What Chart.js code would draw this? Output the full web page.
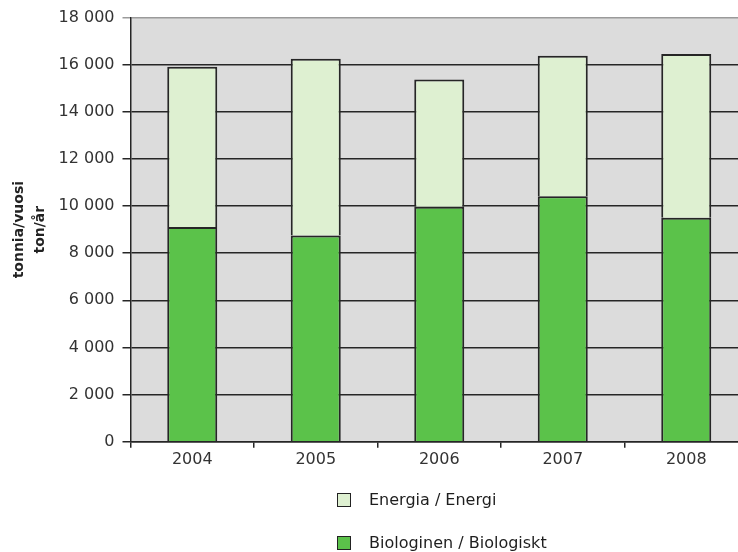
<!DOCTYPE html>
<html>
<head>
<meta charset="utf-8">
<script src="https://cdn.jsdelivr.net/npm/chart.js@4/dist/chart.umd.min.js"></script>
<style>
  html, body { margin:0; padding:0; background:#fff; width:738px; height:552px; overflow:hidden; }
  #wrap { position:relative; width:760px; height:552px; }
  #legend { position:absolute; left:337px; top:493px; font-family:"DejaVu Sans", sans-serif; font-size:16px; color:#1e1e1e; }
  .item { position:absolute; left:0; height:15px; white-space:nowrap; }
  .box { position:absolute; left:0; top:0; width:12px; height:12px; border:1.5px solid #222; }
  .lbl { position:absolute; left:32px; top:-3px; }
</style>
</head>
<body>
<div id="wrap">
  <canvas id="c" width="760" height="552"></canvas>
  <div id="legend"></div>
</div>
<script>
const categories = ['2004', '2005', '2006', '2007', '2008'];
const biologinen = [9110, 8750, 9970, 10420, 9510];
const energia = [6800, 7500, 5400, 5960, 6950];
const seriesLabels = ['Biologinen / Biologiskt', 'Energia / Energi'];
const yTitle = ['tonnia/vuosi', 'ton/år'];
const yMax = 18000;
const yStep = 2000;

const colBio = '#5bc24a';
const colEn = '#def0d1';
const dark = '#262626';

const fmt = v => String(v).replace(/\B(?=(\d{3})+(?!\d))/g, ' ');

const bgPlugin = {
  id: 'bg',
  beforeDraw(chart) {
    const a = chart.chartArea, ctx = chart.ctx;
    ctx.save();
    ctx.fillStyle = '#dcdcdc';
    ctx.fillRect(a.left, a.top, a.right - a.left, a.bottom - a.top);
    ctx.restore();
  }
};

const font = { family: '"DejaVu Sans", sans-serif', size: 16 };

const chart = new Chart(document.getElementById('c'), {
  type: 'bar',
  data: {
    labels: categories,
    datasets: [
      { label: seriesLabels[0], data: biologinen, backgroundColor: colBio, borderColor: dark, borderWidth: 2, borderSkipped: 'start' },
      { label: seriesLabels[1], data: energia, backgroundColor: colEn, borderColor: dark, borderWidth: 2, borderSkipped: 'start' }
    ]
  },
  options: {
    responsive: false,
    animation: false,
    devicePixelRatio: 1,
    layout: { padding: { top: 17, right: 12, left: 0, bottom: 0 } },
    datasets: { bar: { barPercentage: 0.405, categoryPercentage: 1 } },
    plugins: { legend: { display: false }, tooltip: { enabled: false } },
    scales: {
      x: {
        stacked: true,
        offset: true,
        grid: { drawOnChartArea: false, drawTicks: true, tickLength: 6, color: dark, lineWidth: 1.5, offset: true },
        border: { display: true, color: dark, width: 1.5 },
        ticks: { font: font, color: '#333', padding: 3 },
        afterFit(s) { s.height = 110.3; }
      },
      y: {
        stacked: true,
        min: 0,
        max: yMax,
        ticks: { stepSize: yStep, font: font, color: '#333', padding: 8, callback: v => fmt(v) },
        grid: {
          color: ctx => (ctx.tick && ctx.tick.value === yMax) ? '#9a9a9a' : dark,
          lineWidth: 1.5,
          tickLength: 8,
          drawTicks: true
        },
        border: { display: true, color: dark, width: 1.5 },
        title: { display: true, text: yTitle, font: { family: '"DejaVu Sans", sans-serif', size: 14, weight: 'bold', lineHeight: 1.5 }, color: '#222', padding: { top: 8.5, bottom: 0 } },
        afterFit(s) { s.width = 130.5; }
      }
    }
  },
  plugins: [bgPlugin]
});

// HTML legend (order: Energia first, then Biologinen)
const legend = document.getElementById('legend');
const order = [1, 0];
order.forEach((di, i) => {
  const ds = chart.data.datasets[di];
  const it = document.createElement('div');
  it.className = 'item';
  it.style.top = (i * 42.5) + 'px';
  const b = document.createElement('div');
  b.className = 'box';
  b.style.background = ds.backgroundColor;
  const l = document.createElement('div');
  l.className = 'lbl';
  l.textContent = ds.label;
  it.appendChild(b); it.appendChild(l);
  legend.appendChild(it);
});
</script>
</body>
</html>
